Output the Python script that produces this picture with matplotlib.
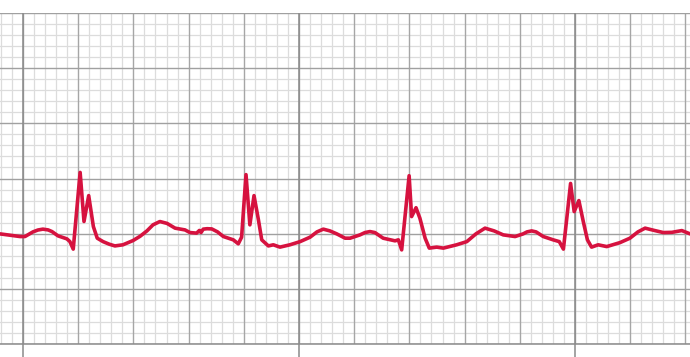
import numpy as np
import matplotlib
matplotlib.use("Agg")
import matplotlib.pyplot as plt

# ECG trace: time in seconds, amplitude in mV
time_s = [-0.083, -0.047, -0.011, 0.007, 0.036, 0.054, 0.072, 0.091, 0.105, 0.127,
          0.159, 0.170, 0.182, 0.207, 0.221, 0.238, 0.255, 0.269, 0.290, 0.312,
          0.333, 0.362, 0.399, 0.424, 0.449, 0.471, 0.496, 0.522, 0.551, 0.587,
          0.605, 0.629, 0.639, 0.645, 0.653, 0.667, 0.684, 0.705, 0.726, 0.762,
          0.780, 0.792, 0.808, 0.822, 0.837, 0.853, 0.865, 0.889, 0.907, 0.931,
          0.967, 1.004, 1.040, 1.065, 1.088, 1.112, 1.137, 1.167, 1.185, 1.221,
          1.239, 1.257, 1.275, 1.305, 1.348, 1.360, 1.372, 1.399, 1.408, 1.424,
          1.438, 1.457, 1.472, 1.499, 1.523, 1.571, 1.608, 1.641, 1.674, 1.707,
          1.740, 1.783, 1.812, 1.826, 1.843, 1.859, 1.885, 1.921, 1.943, 1.958,
          1.984, 1.997, 2.014, 2.030, 2.045, 2.060, 2.084, 2.115, 2.163, 2.199,
          2.228, 2.254, 2.286, 2.320, 2.351, 2.387, 2.417]
amplitude_mv = [-0.502, -0.514, -0.526, -0.526, -0.484, -0.467, -0.459, -0.466, -0.481, -0.520,
                -0.547, -0.572, -0.640, 0.055, -0.390, -0.155, -0.436, -0.541, -0.572, -0.595,
                -0.611, -0.601, -0.562, -0.524, -0.475, -0.420, -0.390, -0.407, -0.450, -0.466,
                -0.490, -0.495, -0.471, -0.490, -0.459, -0.455, -0.457, -0.484, -0.526, -0.556,
                -0.592, -0.532, 0.035, -0.420, -0.155, -0.375, -0.556, -0.611, -0.601, -0.622,
                -0.601, -0.572, -0.532, -0.484, -0.459, -0.475, -0.502, -0.541, -0.541, -0.511,
                -0.490, -0.481, -0.490, -0.541, -0.565, -0.556, -0.647, 0.025, -0.345, -0.265,
                -0.360, -0.541, -0.631, -0.622, -0.631, -0.601, -0.572, -0.502, -0.450, -0.475,
                -0.511, -0.526, -0.502, -0.484, -0.475, -0.484, -0.526, -0.556, -0.572, -0.640,
                -0.045, -0.300, -0.200, -0.390, -0.556, -0.622, -0.601, -0.617, -0.581, -0.541,
                -0.484, -0.450, -0.470, -0.490, -0.488, -0.472, -0.502]
x_ticks = [0, 1, 2]

fig = plt.figure(figsize=(6.9, 3.57), dpi=100)
ax = fig.add_axes([0, 13 / 357, 1, 331 / 357])
xmin, xmax = -23 / 276, 667 / 276
ymin, ymax = -1.5, 1.5
ax.set_xlim(xmin, xmax)
ax.set_ylim(ymin, ymax)

# grid: minor 0.04 s / 0.1 mV, major 0.2 s / 0.5 mV, 1 s emphasised
for x in np.arange(-0.08, xmax + 0.01, 0.04):
    if abs(round(x / 0.2) * 0.2 - x) > 1e-6:
        ax.axvline(x, color="#dcdcdc", lw=0.9, zorder=1)
for y in np.arange(ymin, ymax + 0.01, 0.1):
    if abs(round(y / 0.5) * 0.5 - y) > 1e-6:
        ax.axhline(y, color="#dcdcdc", lw=0.9, zorder=1)
for x in np.arange(0, xmax + 0.01, 0.2):
    ax.axvline(x, color="#a6a6a6", lw=1.0, zorder=2)
for y in np.arange(ymin, ymax + 0.01, 0.5):
    ax.axhline(y, color="#a0a0a0", lw=1.0, zorder=2)
for x in x_ticks:
    ax.axvline(x, color="#8a8a8a", lw=1.1, zorder=2)

ax.plot(time_s, amplitude_mv, color="#d6123f", lw=2.6, solid_joinstyle="round",
        solid_capstyle="round", zorder=5)

for s in ["top", "left", "right"]:
    ax.spines[s].set_visible(False)
ax.spines["bottom"].set_color("#8a8a8a")
ax.spines["bottom"].set_linewidth(1.1)
ax.set_xticks(x_ticks)
ax.set_xticklabels([])
ax.set_yticks([])
ax.tick_params(axis="x", length=14, width=1.1, color="#8a8a8a", direction="out")

fig.savefig("out.png", dpi=100)
